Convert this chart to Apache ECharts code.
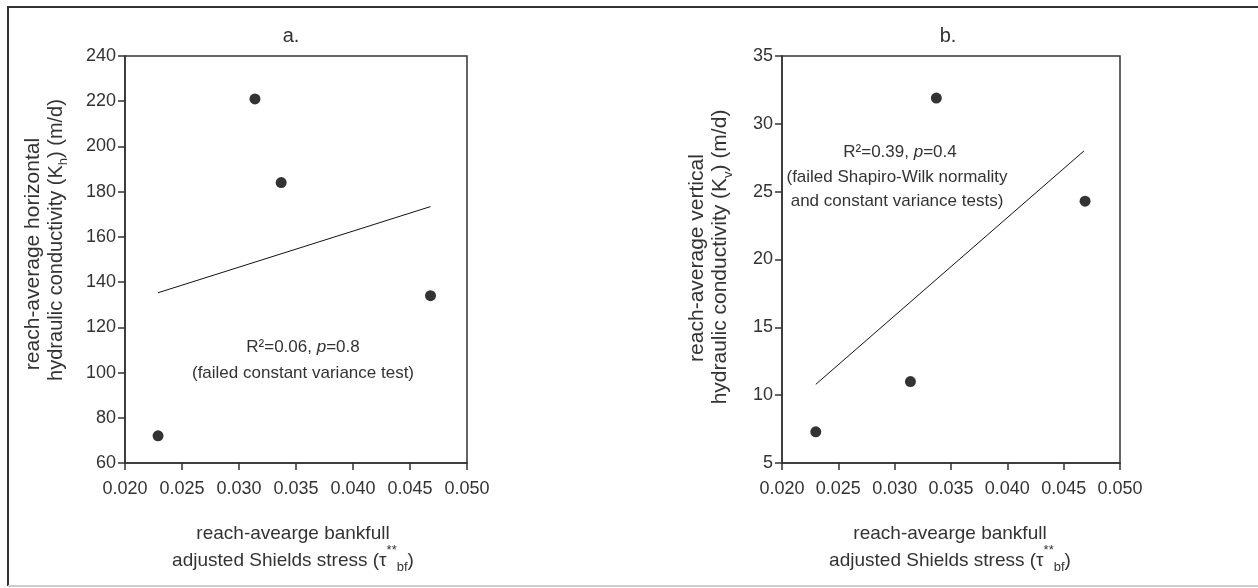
<!DOCTYPE html>
<html>
<head>
<meta charset="utf-8">
<script src="https://cdn.jsdelivr.net/npm/echarts@6/dist/echarts.min.js"></script>
<style>
  html, body { margin: 0; padding: 0; background: #fff; }
  #chart { width: 1258px; height: 588px; }
</style>
</head>
<body>
<div id="chart"></div>
<script>
// panel a: horizontal conductivity
const stressA = [0.0229, 0.0314, 0.0337, 0.0468];
const khA = [72, 221, 184, 134];
const fitA = [[0.0229, 135.3], [0.0468, 173.4]];

// panel b: vertical conductivity
const stressB = [0.0230, 0.0314, 0.0337, 0.0469];
const kvB = [7.3, 11.0, 31.9, 24.3];
const fitB = [[0.0230, 10.8], [0.0468, 28.0]];

const xTicks = { min: 0.02, max: 0.05, interval: 0.005 };
const yTicksA = { min: 60, max: 240, interval: 20 };
const yTicksB = { min: 5, max: 35, interval: 5 };

const textColor = '#333';
const font = '"Liberation Sans", Arial, sans-serif';

const chart = echarts.init(document.getElementById('chart'), null, { renderer: 'canvas' });

function xAxisOpt(gridIndex) {
  return {
    type: 'value', gridIndex: gridIndex,
    min: xTicks.min, max: xTicks.max, interval: xTicks.interval,
    axisLine: { show: true, lineStyle: { color: '#333', width: 1.5 } },
    axisTick: { show: true, length: 7, lineStyle: { color: '#333', width: 1.5 } },
    axisLabel: { color: textColor, fontFamily: font, fontSize: 18, margin: 17,
      formatter: v => v.toFixed(3) },
    splitLine: { show: false }
  };
}
function yAxisOpt(gridIndex, t) {
  return {
    type: 'value', gridIndex: gridIndex,
    min: t.min, max: t.max, interval: t.interval,
    axisLine: { show: true, lineStyle: { color: '#333', width: 1.5 } },
    axisTick: { show: true, length: 7, lineStyle: { color: '#333', width: 1.5 } },
    axisLabel: { color: textColor, fontFamily: font, fontSize: 18, margin: 9 },
    splitLine: { show: false }
  };
}

function richSet(size) {
  return {
    n: { fontFamily: font, fontSize: size, color: textColor, lineHeight: 26, verticalAlign: 'bottom' },
    i: { fontFamily: font, fontSize: size, color: textColor, fontStyle: 'italic', lineHeight: 26, verticalAlign: 'bottom' },
    sup: { fontFamily: font, fontSize: 13, color: textColor, lineHeight: 26, verticalAlign: 'top' },
    sub: { fontFamily: font, fontSize: 13, color: textColor, lineHeight: 26, verticalAlign: 'bottom', padding: [0, 0, -4, 0] }
  };
}

function label(x, y, text, size, rot) {
  return {
    type: 'text', x: x, y: y, rotation: rot || 0,
    style: { text: text, rich: richSet(size), align: 'center', verticalAlign: 'middle',
      fill: textColor, font: size + 'px ' + font }
  };
}

const option = {
  backgroundColor: '#fff',
  animation: false,
  grid: [
    { left: 125, top: 56, width: 342, height: 407, show: true, borderColor: '#333', borderWidth: 1.5 },
    { left: 782, top: 56, width: 338, height: 407, show: true, borderColor: '#333', borderWidth: 1.5 }
  ],
  xAxis: [xAxisOpt(0), xAxisOpt(1)],
  yAxis: [yAxisOpt(0, yTicksA), yAxisOpt(1, yTicksB)],
  series: [
    { type: 'scatter', xAxisIndex: 0, yAxisIndex: 0, symbolSize: 11,
      itemStyle: { color: '#000' }, data: stressA.map((x, i) => [x, khA[i]]) },
    { type: 'line', xAxisIndex: 0, yAxisIndex: 0, symbol: 'none',
      lineStyle: { color: '#111', width: 1 }, data: fitA },
    { type: 'scatter', xAxisIndex: 1, yAxisIndex: 1, symbolSize: 11,
      itemStyle: { color: '#000' }, data: stressB.map((x, i) => [x, kvB[i]]) },
    { type: 'line', xAxisIndex: 1, yAxisIndex: 1, symbol: 'none',
      lineStyle: { color: '#111', width: 1 }, data: fitB }
  ],
  graphic: [
    // outer frame
    { type: 'polyline', shape: { points: [[8, 586], [8, 7], [1258, 7]] },
      style: { stroke: '#333', lineWidth: 2, fill: null } },
    { type: 'line', shape: { x1: 8, y1: 586, x2: 1258, y2: 586 },
      style: { stroke: '#ccc', lineWidth: 2 } },
    // panel titles
    label(291, 33, '{n|a.}', 20),
    label(948, 33, '{n|b.}', 20),
    // x axis titles
    label(293, 530, '{n|reach-avearge bankfull}', 19),
    label(293, 557, '{n|adjusted Shields stress (τ}{sup|**}{sub|bf}{n|)}', 19),
    label(950, 530, '{n|reach-avearge bankfull}', 19),
    label(950, 557, '{n|adjusted Shields stress (τ}{sup|**}{sub|bf}{n|)}', 19),
    // y axis titles
    label(31, 254, '{n|reach-average horizontal}', 21, Math.PI / 2),
    label(53, 240, '{n|hydraulic conductivity (K}{sub|h}{n|) (m/d)}', 20, Math.PI / 2),
    label(695, 258, '{n|reach-average vertical}', 21, Math.PI / 2),
    label(718, 257, '{n|hydraulic conductivity (K}{sub|v}{n|) (m/d)}', 21, Math.PI / 2),
    // regression notes
    label(303, 343, '{n|R²=0.06, }{i|p}{n|=0.8}', 17),
    label(303, 369, '{n|(failed constant variance test)}', 17),
    label(900, 148, '{n|R²=0.39, }{i|p}{n|=0.4}', 17),
    label(897, 173, '{n|(failed Shapiro-Wilk normality}', 17),
    label(897, 197, '{n|and constant variance tests)}', 17)
  ]
};

chart.setOption(option);
</script>
</body>
</html>
